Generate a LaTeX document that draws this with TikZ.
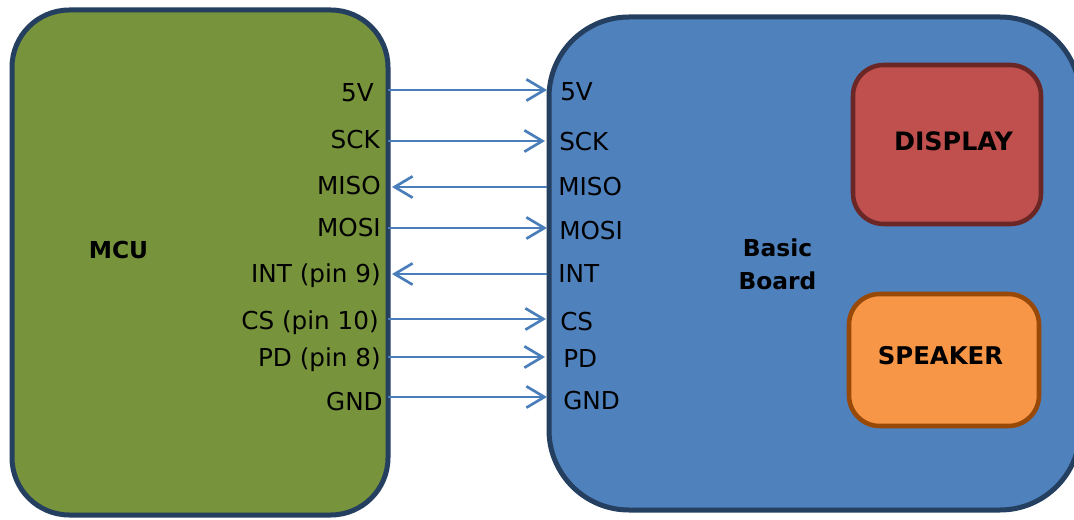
\documentclass[tikz,border=0pt]{standalone}
\usepackage{fontspec}
\setmainfont{DejaVu Sans}
\usetikzlibrary{arrows.meta}
\definecolor{mcufill}{HTML}{77933C}
\definecolor{boardfill}{HTML}{4F81BD}
\definecolor{navy}{HTML}{243F60}
\definecolor{dispfill}{HTML}{C0504D}
\definecolor{displine}{HTML}{6B2626}
\definecolor{spkfill}{HTML}{F79646}
\definecolor{spkline}{HTML}{984807}
\definecolor{arrowblue}{HTML}{4A7EBB}
\tikzset{
  bigbox/.style={draw=navy, line width=3.75pt},
  smallbox/.style={line width=3.4pt, rounded corners=23pt},
  arr/.style={draw=arrowblue, line width=2pt, -{Straight Barb[length=13.5pt,width=16pt]}},
  pinl/.style={anchor=base east, inner sep=0pt, font=\fontsize{18.5}{22}\selectfont},
  pinr/.style={anchor=base west, inner sep=0pt, font=\fontsize{18.5}{22}\selectfont},
  title/.style={inner sep=0pt, font=\fontsize{17.5}{25}\selectfont\bfseries, align=center}
}
\begin{document}
\begin{tikzpicture}[x=0.75pt,y=-0.75pt]
\clip (0,0) rectangle (1074,520);
\fill[white] (0,0) rectangle (1074,520);
% boxes
\draw[bigbox, fill=mcufill, rounded corners=43pt] (12,10) rectangle (388,515);
\draw[bigbox, fill=boardfill, rounded corners=60pt] (549,17) rectangle (1080,510);
\draw[smallbox, draw=displine, fill=dispfill] (853,65) rectangle (1041,224);
\draw[smallbox, draw=spkline, fill=spkfill] (849,294) rectangle (1039,426);
% titles
\node[title, anchor=base] (mcu) at (118.5,258) {MCU};
\node[title, anchor=base] (basic) at (777.5,257) {Basic};
\node[title, anchor=base] (board) at (777.5,290) {Board};
\node[title, anchor=base, font=\fontsize{19}{25}\selectfont\bfseries] (display) at (953.5,151) {DISPLAY};
\node[title, anchor=base, font=\fontsize{18.3}{25}\selectfont\bfseries] (speaker) at (940.5,364) {SPEAKER};
% MCU pin labels
\node[pinl] (l5v)   at (374,102) {5V};
\node[pinl] (lsck)  at (380,149) {SCK};
\node[pinl] (lmiso) at (381,195) {MISO};
\node[pinl] (lmosi) at (381,237) {MOSI};
\node[pinl] (lint)  at (381,282) {INT (pin 9)};
\node[pinl] (lcs)   at (379,329) {CS (pin 10)};
\node[pinl] (lpd)   at (381,366) {PD (pin 8)};
\node[pinl] (lgnd)  at (383,410) {GND};
% board pin labels
\node[pinr] (r5v)   at (560,101) {5V};
\node[pinr] (rsck)  at (559,151) {SCK};
\node[pinr] (rmiso) at (558,196) {MISO};
\node[pinr] (rmosi) at (559,240) {MOSI};
\node[pinr] (rint)  at (558,282) {INT};
\node[pinr] (rcs)   at (560,330) {CS};
\node[pinr] (rpd)   at (563,367) {PD};
\node[pinr] (rgnd)  at (563,409) {GND};
% connection points
\coordinate (m5v)   at (388,90);
\coordinate (msck)  at (388,141);
\coordinate (mmiso) at (392,187);
\coordinate (mmosi) at (388,228);
\coordinate (mint)  at (392,274);
\coordinate (mcs)   at (388,319);
\coordinate (mpd)   at (388,357);
\coordinate (mgnd)  at (388,397);
\coordinate (b5v)   at (547,90);
\coordinate (bsck)  at (545,141);
\coordinate (bmiso) at (547,187);
\coordinate (bmosi) at (547,228);
\coordinate (bint)  at (547,274);
\coordinate (bcs)   at (546,319);
\coordinate (bpd)   at (545,357);
\coordinate (bgnd)  at (547,397);
% connectors
\draw[arr] (m5v) -- (b5v);
\draw[arr] (msck) -- (bsck);
\draw[arr] (bmiso) -- (mmiso);
\draw[arr] (mmosi) -- (bmosi);
\draw[arr] (bint) -- (mint);
\draw[arr] (mcs) -- (bcs);
\draw[arr] (mpd) -- (bpd);
\draw[arr] (mgnd) -- (bgnd);
\end{tikzpicture}
\end{document}
